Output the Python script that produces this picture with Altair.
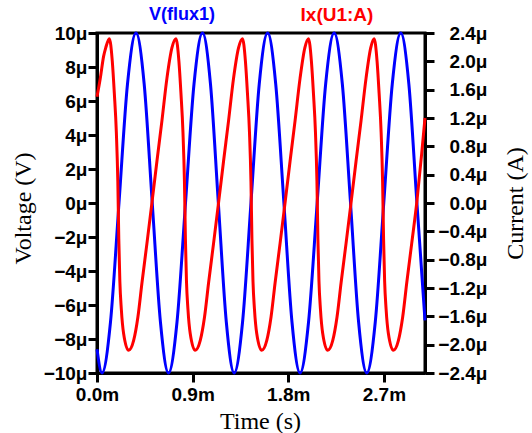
import altair as alt
import pandas as pd

# ---- data (time in ms, V in uV, I in uA) ----
time_v = [0.000, 0.047, 0.127, 0.207, 0.287, 0.367, 0.444, 0.520, 0.597, 0.673,
          0.753, 0.833, 0.913, 0.993, 1.068, 1.142, 1.217, 1.291, 1.370, 1.449,
          1.527, 1.606, 1.682, 1.759, 1.835, 1.911, 1.991, 2.072, 2.152, 2.232,
          2.309, 2.386, 2.462, 2.539, 2.619, 2.699, 2.779, 2.859, 2.935, 3.011,
          3.087]
flux_v = [-8.6, -10.0, -7.0, 0.0, 7.0, 10.0, 7.0, 0.0, -7.0, -10.0,
          -7.0, 0.0, 7.0, 10.0, 7.0, 0.0, -7.0, -10.0, -7.0, 0.0,
          7.0, 10.0, 7.0, 0.0, -7.0, -10.0, -7.0, 0.0, 7.0, 10.0,
          7.0, 0.0, -7.0, -10.0, -7.0, 0.0, 7.0, 10.0, 7.0, 0.0,
          -6.9]

time_i = [0.000, 0.031, 0.062, 0.082, 0.116,
          0.144, 0.163, 0.182, 0.196, 0.205, 0.215, 0.229, 0.250, 0.297, 0.345,
          0.385, 0.423, 0.470, 0.520, 0.564, 0.611, 0.658, 0.705, 0.743,
          0.771, 0.790, 0.809, 0.823, 0.832, 0.842, 0.856, 0.877, 0.924, 0.972,
          1.012, 1.050, 1.097, 1.147, 1.191, 1.238, 1.285, 1.332, 1.369,
          1.397, 1.416, 1.435, 1.449, 1.458, 1.468, 1.482, 1.503, 1.550, 1.598,
          1.638, 1.676, 1.723, 1.773, 1.817, 1.864, 1.911, 1.956, 1.990,
          2.018, 2.037, 2.056, 2.070, 2.079, 2.089, 2.103, 2.124, 2.171, 2.219,
          2.259, 2.297, 2.344, 2.394, 2.438, 2.485, 2.532, 2.576, 2.608,
          2.636, 2.655, 2.674, 2.688, 2.697, 2.707, 2.721, 2.742, 2.789, 2.837,
          2.877, 2.915, 2.962, 3.012, 3.056, 3.087]
current_i = [1.50, 1.76, 2.07, 2.19, 2.32,
             2.00, 1.55, 1.00, 0.30, -0.50, -1.10, -1.50, -1.84, -2.08, -1.94,
             -1.61, -1.13, -0.57, 0.04, 0.59, 1.16, 1.76, 2.19, 2.32,
             2.00, 1.55, 1.00, 0.30, -0.50, -1.10, -1.50, -1.84, -2.08, -1.94,
             -1.61, -1.13, -0.57, 0.04, 0.59, 1.16, 1.76, 2.19, 2.32,
             2.00, 1.55, 1.00, 0.30, -0.50, -1.10, -1.50, -1.84, -2.08, -1.94,
             -1.61, -1.13, -0.57, 0.04, 0.59, 1.16, 1.76, 2.19, 2.32,
             2.00, 1.55, 1.00, 0.30, -0.50, -1.10, -1.50, -1.84, -2.08, -1.94,
             -1.61, -1.13, -0.57, 0.04, 0.59, 1.16, 1.76, 2.19, 2.32,
             2.00, 1.55, 1.00, 0.30, -0.50, -1.10, -1.50, -1.84, -2.08, -1.94,
             -1.61, -1.13, -0.57, 0.04, 0.70, 1.20]

x_ticks = [0.0, 0.9, 1.8, 2.7]
v_ticks = [-10, -8, -6, -4, -2, 0, 2, 4, 6, 8, 10]
i_ticks = [-2.4, -2.0, -1.6, -1.2, -0.8, -0.4, 0.0, 0.4, 0.8, 1.2, 1.6, 2.0, 2.4]

series_names = ["V(flux1)", "Ix(U1:A)"]
series_colors = ["#0000FF", "#FF0000"]

blue_df = pd.DataFrame({"t": time_v, "v": flux_v})
red_df = pd.DataFrame({"t": time_i, "i": current_i})

W, H = 328, 340

x_enc = alt.X(
    "t:Q",
    scale=alt.Scale(domain=[0, 3.087], nice=False, zero=False),
    axis=alt.Axis(
        values=x_ticks,
        labelExpr="format(datum.value, '.1f') + 'm'",
        title="Time (s)",
        labelPadding=3,
        labelFlush=False,
        labelOverlap=False,
        titleX=W / 2 - 1,
        titleY=48,
        titleBaseline="middle",
    ),
)

blue = alt.Chart(blue_df).mark_line(
    color=series_colors[0], strokeWidth=3, interpolate="monotone"
).encode(
    x=x_enc,
    y=alt.Y(
        "v:Q",
        scale=alt.Scale(domain=[-10, 10], nice=False),
        axis=alt.Axis(
            orient="left",
            values=v_ticks,
            labelExpr="format(datum.value, 'd') + 'μ'",
            title="Voltage (V)",
            labelPadding=1,
            labelFlush=False,
            labelOverlap=False,
            titleAngle=270,
            titleX=-74,
            titleY=H / 2 + 5,
            titleBaseline="middle",
            titleAlign="center",
        ),
    ),
)

red = alt.Chart(red_df).mark_line(
    color=series_colors[1], strokeWidth=3, interpolate="monotone"
).encode(
    x=alt.X("t:Q"),
    y=alt.Y(
        "i:Q",
        scale=alt.Scale(domain=[-2.4, 2.4], nice=False),
        axis=alt.Axis(
            orient="right",
            values=i_ticks,
            labelExpr="format(datum.value, '.1f') + 'μ'",
            title="Current (A)",
            labelAlign="right",
            labelPadding=53,
            labelFlush=False,
            labelOverlap=False,
            titleAngle=270,
            titleX=90,
            titleY=H / 2,
            titleBaseline="middle",
            titleAlign="center",
        ),
    ),
)

lab_df = pd.DataFrame({"name": series_names})
lab_v = alt.Chart(lab_df).transform_filter(alt.datum.name == series_names[0]).mark_text(
    font="Liberation Sans", fontWeight="bold", fontSize=18, color=series_colors[0]
).encode(x=alt.value(85), y=alt.value(-18), text="name:N")
lab_i = alt.Chart(lab_df).transform_filter(alt.datum.name == series_names[1]).mark_text(
    font="Liberation Sans", fontWeight="bold", fontSize=19, color=series_colors[1]
).encode(x=alt.value(240), y=alt.value(-18), text="name:N")

chart = alt.layer(blue, red, lab_v, lab_i).resolve_scale(y="independent").properties(
    width=W,
    height=H,
    padding={"left": 97, "top": 33, "right": 107, "bottom": 60},
    autosize=alt.AutoSizeParams(type="none"),
    background="white",
).configure_view(
    stroke="black", strokeWidth=3
).configure_axis(
    grid=False,
    domainColor="black",
    domainWidth=3,
    tickColor="black",
    tickWidth=3,
    tickSize=9,
    labelFont="Liberation Sans",
    labelFontWeight="bold",
    labelFontSize=19,
    labelColor="black",
    titleFont="Liberation Serif",
    titleFontWeight="normal",
    titleFontSize=24,
    titleColor="black",
)

chart.save("out.html", embed_options={"renderer": "svg", "actions": False})
